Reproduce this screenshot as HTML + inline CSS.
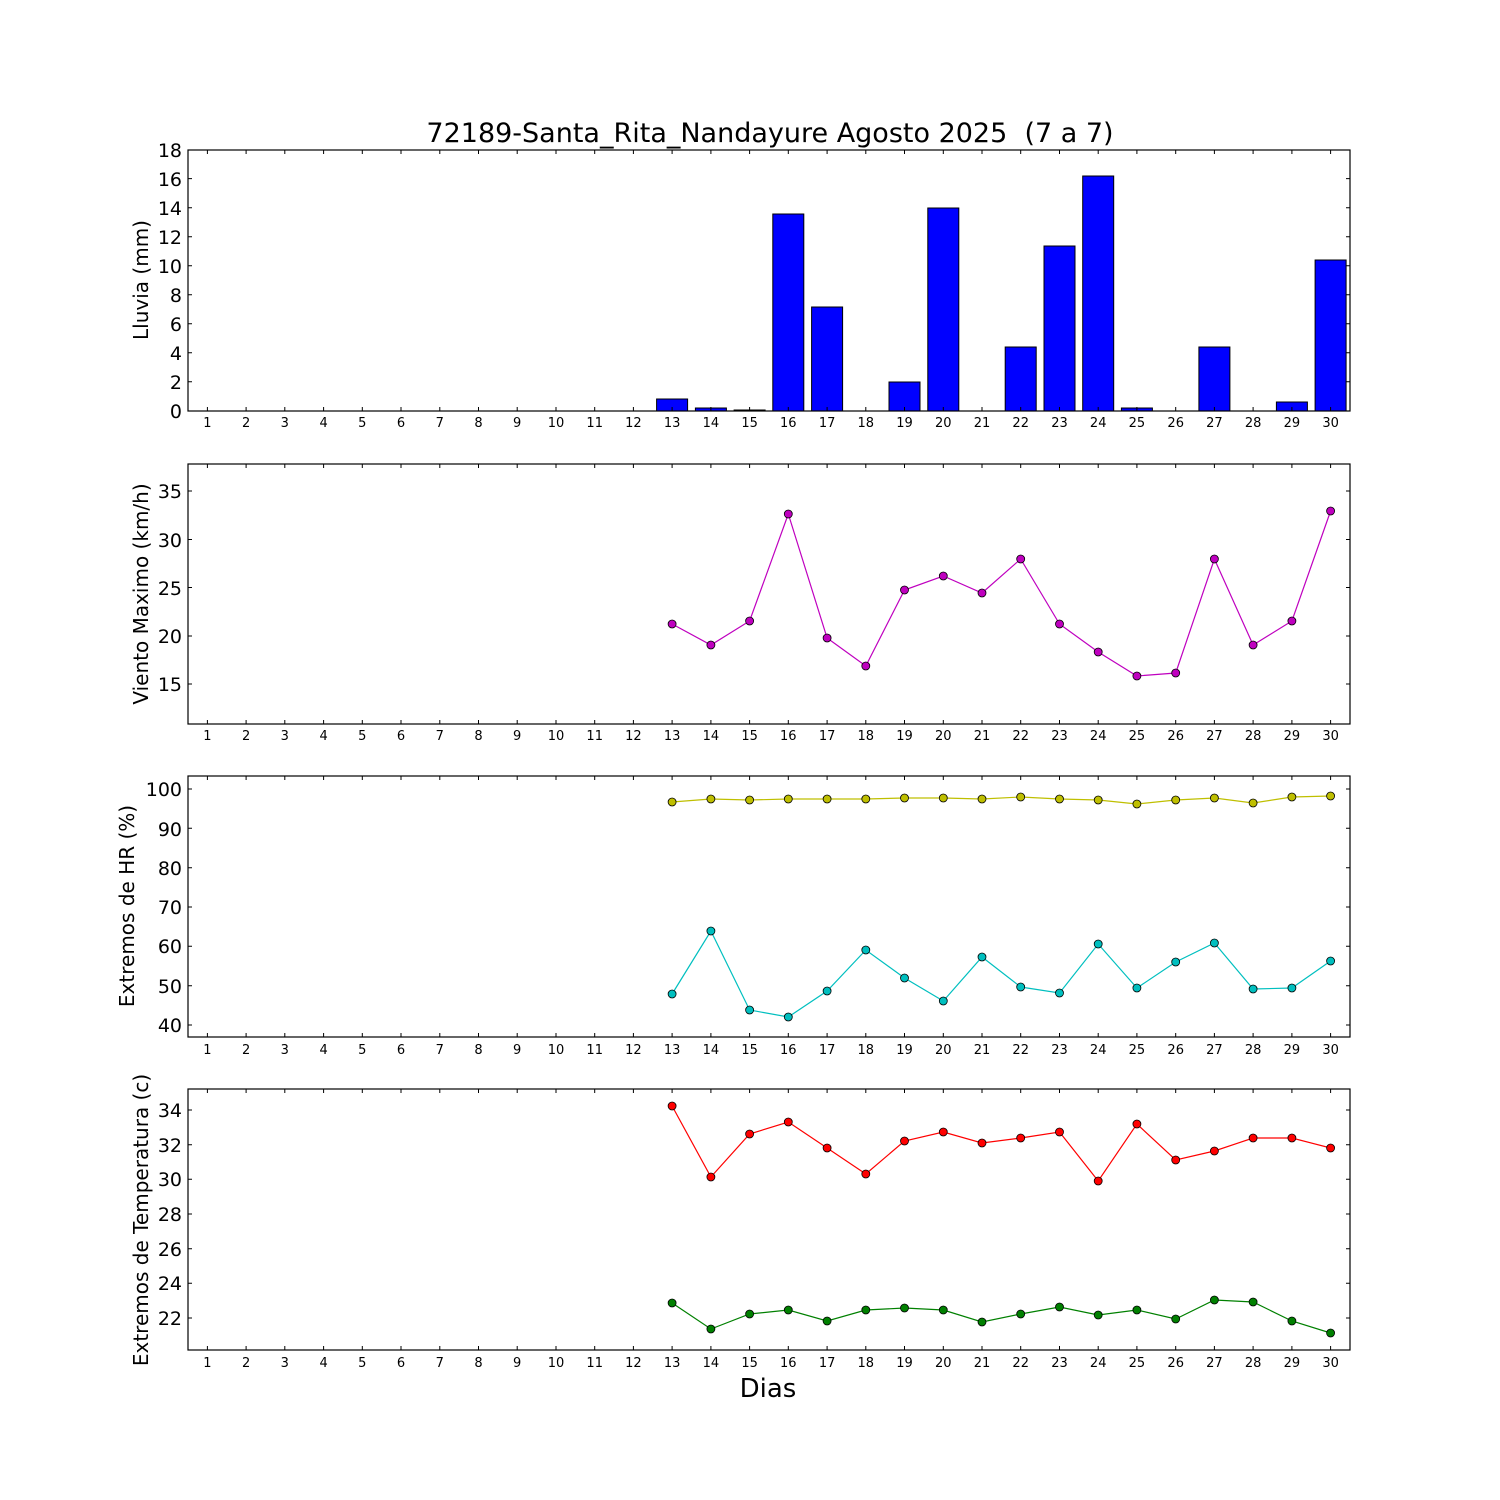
<!DOCTYPE html><html><head><style>body{margin:0;background:#fff}svg{display:block}text{font-family:"DejaVu Sans","Liberation Sans",sans-serif}</style></head><body>
<svg width="1500" height="1500" xmlns="http://www.w3.org/2000/svg">
<rect width="1500" height="1500" fill="#fff"/>
<text x="770" y="142" font-size="27" text-anchor="middle">72189-Santa_Rita_Nandayure Agosto 2025&#160; (7 a 7)</text>
<text x="768" y="1397" font-size="26" text-anchor="middle">Dias</text>
<g font-size="20" text-anchor="middle">
<text transform="translate(148,280) rotate(-90)">Lluvia (mm)</text>
<text transform="translate(148,594) rotate(-90)">Viento Maximo (km/h)</text>
<text transform="translate(134,906) rotate(-90)">Extremos de HR (%)</text>
<text transform="translate(148,1220) rotate(-90)">Extremos de Temperatura (c)</text>
</g>
<g fill="#0000ff" stroke="#000" stroke-width="1">
<rect x="656.6" y="399" width="31" height="12"/>
<rect x="695.4" y="408" width="31" height="3"/>
<rect x="734.1" y="410" width="31" height="1"/>
<rect x="772.8" y="214" width="31" height="197"/>
<rect x="811.6" y="307" width="31" height="104"/>
<rect x="889" y="382" width="31" height="29"/>
<rect x="927.8" y="208" width="31" height="203"/>
<rect x="1005.2" y="347" width="31" height="64"/>
<rect x="1044" y="246" width="31" height="165"/>
<rect x="1082.7" y="176" width="31" height="235"/>
<rect x="1121.4" y="408" width="31" height="3"/>
<rect x="1198.9" y="347" width="31" height="64"/>
<rect x="1276.4" y="402" width="31" height="9"/>
<rect x="1315.1" y="260" width="31" height="151"/>
</g>
<g fill="none" stroke="#000" stroke-width="1.2">
<rect x="188" y="150" width="1162" height="261"/>
<rect x="188" y="464" width="1162" height="260"/>
<rect x="188" y="776" width="1162" height="261"/>
<rect x="188" y="1089" width="1162" height="261"/>
</g>
<g stroke="#000" stroke-width="1">
<path d="M207.4 0v4M246.1 0v4M284.8 0v4M323.6 0v4M362.3 0v4M401 0v4M439.8 0v4M478.5 0v4M517.2 0v4M556 0v4M594.7 0v4M633.4 0v4M672.1 0v4M710.9 0v4M749.6 0v4M788.3 0v4M827.1 0v4M865.8 0v4M904.5 0v4M943.3 0v4M982 0v4M1020.7 0v4M1059.5 0v4M1098.2 0v4M1136.9 0v4M1175.7 0v4M1214.4 0v4M1253.1 0v4M1291.9 0v4M1330.6 0v4" transform="translate(0,150)"/>
<path d="M207.4 0v4M246.1 0v4M284.8 0v4M323.6 0v4M362.3 0v4M401 0v4M439.8 0v4M478.5 0v4M517.2 0v4M556 0v4M594.7 0v4M633.4 0v4M672.1 0v4M710.9 0v4M749.6 0v4M788.3 0v4M827.1 0v4M865.8 0v4M904.5 0v4M943.3 0v4M982 0v4M1020.7 0v4M1059.5 0v4M1098.2 0v4M1136.9 0v4M1175.7 0v4M1214.4 0v4M1253.1 0v4M1291.9 0v4M1330.6 0v4" transform="translate(0,407)"/>
<path d="M207.4 0v4M246.1 0v4M284.8 0v4M323.6 0v4M362.3 0v4M401 0v4M439.8 0v4M478.5 0v4M517.2 0v4M556 0v4M594.7 0v4M633.4 0v4M672.1 0v4M710.9 0v4M749.6 0v4M788.3 0v4M827.1 0v4M865.8 0v4M904.5 0v4M943.3 0v4M982 0v4M1020.7 0v4M1059.5 0v4M1098.2 0v4M1136.9 0v4M1175.7 0v4M1214.4 0v4M1253.1 0v4M1291.9 0v4M1330.6 0v4" transform="translate(0,464)"/>
<path d="M207.4 0v4M246.1 0v4M284.8 0v4M323.6 0v4M362.3 0v4M401 0v4M439.8 0v4M478.5 0v4M517.2 0v4M556 0v4M594.7 0v4M633.4 0v4M672.1 0v4M710.9 0v4M749.6 0v4M788.3 0v4M827.1 0v4M865.8 0v4M904.5 0v4M943.3 0v4M982 0v4M1020.7 0v4M1059.5 0v4M1098.2 0v4M1136.9 0v4M1175.7 0v4M1214.4 0v4M1253.1 0v4M1291.9 0v4M1330.6 0v4" transform="translate(0,720)"/>
<path d="M207.4 0v4M246.1 0v4M284.8 0v4M323.6 0v4M362.3 0v4M401 0v4M439.8 0v4M478.5 0v4M517.2 0v4M556 0v4M594.7 0v4M633.4 0v4M672.1 0v4M710.9 0v4M749.6 0v4M788.3 0v4M827.1 0v4M865.8 0v4M904.5 0v4M943.3 0v4M982 0v4M1020.7 0v4M1059.5 0v4M1098.2 0v4M1136.9 0v4M1175.7 0v4M1214.4 0v4M1253.1 0v4M1291.9 0v4M1330.6 0v4" transform="translate(0,776)"/>
<path d="M207.4 0v4M246.1 0v4M284.8 0v4M323.6 0v4M362.3 0v4M401 0v4M439.8 0v4M478.5 0v4M517.2 0v4M556 0v4M594.7 0v4M633.4 0v4M672.1 0v4M710.9 0v4M749.6 0v4M788.3 0v4M827.1 0v4M865.8 0v4M904.5 0v4M943.3 0v4M982 0v4M1020.7 0v4M1059.5 0v4M1098.2 0v4M1136.9 0v4M1175.7 0v4M1214.4 0v4M1253.1 0v4M1291.9 0v4M1330.6 0v4" transform="translate(0,1033)"/>
<path d="M207.4 0v4M246.1 0v4M284.8 0v4M323.6 0v4M362.3 0v4M401 0v4M439.8 0v4M478.5 0v4M517.2 0v4M556 0v4M594.7 0v4M633.4 0v4M672.1 0v4M710.9 0v4M749.6 0v4M788.3 0v4M827.1 0v4M865.8 0v4M904.5 0v4M943.3 0v4M982 0v4M1020.7 0v4M1059.5 0v4M1098.2 0v4M1136.9 0v4M1175.7 0v4M1214.4 0v4M1253.1 0v4M1291.9 0v4M1330.6 0v4" transform="translate(0,1089)"/>
<path d="M207.4 0v4M246.1 0v4M284.8 0v4M323.6 0v4M362.3 0v4M401 0v4M439.8 0v4M478.5 0v4M517.2 0v4M556 0v4M594.7 0v4M633.4 0v4M672.1 0v4M710.9 0v4M749.6 0v4M788.3 0v4M827.1 0v4M865.8 0v4M904.5 0v4M943.3 0v4M982 0v4M1020.7 0v4M1059.5 0v4M1098.2 0v4M1136.9 0v4M1175.7 0v4M1214.4 0v4M1253.1 0v4M1291.9 0v4M1330.6 0v4" transform="translate(0,1346)"/>
<path d="M188 411h4M188 381.8h4M188 352.8h4M188 323.8h4M188 294.7h4M188 265.7h4M188 236.7h4M188 207.7h4M188 178.6h4M188 150h4 M1350 411h-4M1350 381.8h-4M1350 352.8h-4M1350 323.8h-4M1350 294.7h-4M1350 265.7h-4M1350 236.7h-4M1350 207.7h-4M1350 178.6h-4M1350 150h-4"/>
<path d="M188 684h4M188 636h4M188 587.5h4M188 539.5h4M188 491h4 M1350 684h-4M1350 636h-4M1350 587.5h-4M1350 539.5h-4M1350 491h-4"/>
<path d="M188 1025h4M188 985.7h4M188 946.3h4M188 907h4M188 867.7h4M188 828.3h4M188 789h4 M1350 1025h-4M1350 985.7h-4M1350 946.3h-4M1350 907h-4M1350 867.7h-4M1350 828.3h-4M1350 789h-4"/>
<path d="M188 1318h4M188 1283.3h4M188 1248.7h4M188 1214h4M188 1179.3h4M188 1144.7h4M188 1110h4 M1350 1318h-4M1350 1283.3h-4M1350 1248.7h-4M1350 1214h-4M1350 1179.3h-4M1350 1144.7h-4M1350 1110h-4"/>
</g>
<g font-size="19" text-anchor="end">
<text x="182" y="418">0</text><text x="182" y="389">2</text><text x="182" y="360">4</text><text x="182" y="331">6</text><text x="182" y="302">8</text><text x="182" y="273">10</text><text x="182" y="244">12</text><text x="182" y="215">14</text><text x="182" y="186">16</text><text x="182" y="157">18</text>
<text x="182" y="691">15</text><text x="182" y="643">20</text><text x="182" y="595">25</text><text x="182" y="547">30</text><text x="182" y="498">35</text>
<text x="182" y="1032">40</text><text x="182" y="993">50</text><text x="182" y="953">60</text><text x="182" y="914">70</text><text x="182" y="875">80</text><text x="182" y="836">90</text><text x="182" y="796">100</text>
<text x="182" y="1325">22</text><text x="182" y="1290">24</text><text x="182" y="1256">26</text><text x="182" y="1221">28</text><text x="182" y="1186">30</text><text x="182" y="1152">32</text><text x="182" y="1117">34</text>
</g>
<g font-size="13" text-anchor="middle">
<text y="427"><tspan x="207.4">1</tspan><tspan x="246.1">2</tspan><tspan x="284.8">3</tspan><tspan x="323.6">4</tspan><tspan x="362.3">5</tspan><tspan x="401">6</tspan><tspan x="439.8">7</tspan><tspan x="478.5">8</tspan><tspan x="517.2">9</tspan><tspan x="556">10</tspan><tspan x="594.7">11</tspan><tspan x="633.4">12</tspan><tspan x="672.1">13</tspan><tspan x="710.9">14</tspan><tspan x="749.6">15</tspan><tspan x="788.3">16</tspan><tspan x="827.1">17</tspan><tspan x="865.8">18</tspan><tspan x="904.5">19</tspan><tspan x="943.3">20</tspan><tspan x="982">21</tspan><tspan x="1020.7">22</tspan><tspan x="1059.5">23</tspan><tspan x="1098.2">24</tspan><tspan x="1136.9">25</tspan><tspan x="1175.7">26</tspan><tspan x="1214.4">27</tspan><tspan x="1253.1">28</tspan><tspan x="1291.9">29</tspan><tspan x="1330.6">30</tspan></text>
<text y="740"><tspan x="207.4">1</tspan><tspan x="246.1">2</tspan><tspan x="284.8">3</tspan><tspan x="323.6">4</tspan><tspan x="362.3">5</tspan><tspan x="401">6</tspan><tspan x="439.8">7</tspan><tspan x="478.5">8</tspan><tspan x="517.2">9</tspan><tspan x="556">10</tspan><tspan x="594.7">11</tspan><tspan x="633.4">12</tspan><tspan x="672.1">13</tspan><tspan x="710.9">14</tspan><tspan x="749.6">15</tspan><tspan x="788.3">16</tspan><tspan x="827.1">17</tspan><tspan x="865.8">18</tspan><tspan x="904.5">19</tspan><tspan x="943.3">20</tspan><tspan x="982">21</tspan><tspan x="1020.7">22</tspan><tspan x="1059.5">23</tspan><tspan x="1098.2">24</tspan><tspan x="1136.9">25</tspan><tspan x="1175.7">26</tspan><tspan x="1214.4">27</tspan><tspan x="1253.1">28</tspan><tspan x="1291.9">29</tspan><tspan x="1330.6">30</tspan></text>
<text y="1054"><tspan x="207.4">1</tspan><tspan x="246.1">2</tspan><tspan x="284.8">3</tspan><tspan x="323.6">4</tspan><tspan x="362.3">5</tspan><tspan x="401">6</tspan><tspan x="439.8">7</tspan><tspan x="478.5">8</tspan><tspan x="517.2">9</tspan><tspan x="556">10</tspan><tspan x="594.7">11</tspan><tspan x="633.4">12</tspan><tspan x="672.1">13</tspan><tspan x="710.9">14</tspan><tspan x="749.6">15</tspan><tspan x="788.3">16</tspan><tspan x="827.1">17</tspan><tspan x="865.8">18</tspan><tspan x="904.5">19</tspan><tspan x="943.3">20</tspan><tspan x="982">21</tspan><tspan x="1020.7">22</tspan><tspan x="1059.5">23</tspan><tspan x="1098.2">24</tspan><tspan x="1136.9">25</tspan><tspan x="1175.7">26</tspan><tspan x="1214.4">27</tspan><tspan x="1253.1">28</tspan><tspan x="1291.9">29</tspan><tspan x="1330.6">30</tspan></text>
<text y="1367"><tspan x="207.4">1</tspan><tspan x="246.1">2</tspan><tspan x="284.8">3</tspan><tspan x="323.6">4</tspan><tspan x="362.3">5</tspan><tspan x="401">6</tspan><tspan x="439.8">7</tspan><tspan x="478.5">8</tspan><tspan x="517.2">9</tspan><tspan x="556">10</tspan><tspan x="594.7">11</tspan><tspan x="633.4">12</tspan><tspan x="672.1">13</tspan><tspan x="710.9">14</tspan><tspan x="749.6">15</tspan><tspan x="788.3">16</tspan><tspan x="827.1">17</tspan><tspan x="865.8">18</tspan><tspan x="904.5">19</tspan><tspan x="943.3">20</tspan><tspan x="982">21</tspan><tspan x="1020.7">22</tspan><tspan x="1059.5">23</tspan><tspan x="1098.2">24</tspan><tspan x="1136.9">25</tspan><tspan x="1175.7">26</tspan><tspan x="1214.4">27</tspan><tspan x="1253.1">28</tspan><tspan x="1291.9">29</tspan><tspan x="1330.6">30</tspan></text>
</g>
<g fill="none" stroke-width="1.2">
<polyline stroke="#bf00bf" points="672.1,624 710.9,645 749.6,621 788.3,514 827.1,638 865.8,666 904.5,590 943.3,576 982,593 1020.7,559 1059.5,624 1098.2,652 1136.9,676 1175.7,673 1214.4,559 1253.1,645 1291.9,621 1330.6,511"/>
<polyline stroke="#bfbf00" points="672.1,802 710.9,799 749.6,800 788.3,799 827.1,799 865.8,799 904.5,798 943.3,798 982,799 1020.7,797 1059.5,799 1098.2,800 1136.9,804 1175.7,800 1214.4,798 1253.1,803 1291.9,797 1330.6,796"/>
<polyline stroke="#00bfbf" points="672.1,994 710.9,931 749.6,1010 788.3,1017 827.1,991 865.8,950 904.5,978 943.3,1001 982,957 1020.7,987 1059.5,993 1098.2,944 1136.9,988 1175.7,962 1214.4,943 1253.1,989 1291.9,988 1330.6,961"/>
<polyline stroke="#ff0000" points="672.1,1106 710.9,1177 749.6,1134 788.3,1122 827.1,1148 865.8,1174 904.5,1141 943.3,1132 982,1143 1020.7,1138 1059.5,1132 1098.2,1181 1136.9,1124 1175.7,1160 1214.4,1151 1253.1,1138 1291.9,1138 1330.6,1148"/>
<polyline stroke="#008000" points="672.1,1303 710.9,1329 749.6,1314 788.3,1310 827.1,1321 865.8,1310 904.5,1308 943.3,1310 982,1322 1020.7,1314 1059.5,1307 1098.2,1315 1136.9,1310 1175.7,1319 1214.4,1300 1253.1,1302 1291.9,1321 1330.6,1333"/>
</g>
<g stroke="#000" stroke-width="0.8">
<g fill="#bf00bf"><circle cx="672.1" cy="624" r="4"/><circle cx="710.9" cy="645" r="4"/><circle cx="749.6" cy="621" r="4"/><circle cx="788.3" cy="514" r="4"/><circle cx="827.1" cy="638" r="4"/><circle cx="865.8" cy="666" r="4"/><circle cx="904.5" cy="590" r="4"/><circle cx="943.3" cy="576" r="4"/><circle cx="982" cy="593" r="4"/><circle cx="1020.7" cy="559" r="4"/><circle cx="1059.5" cy="624" r="4"/><circle cx="1098.2" cy="652" r="4"/><circle cx="1136.9" cy="676" r="4"/><circle cx="1175.7" cy="673" r="4"/><circle cx="1214.4" cy="559" r="4"/><circle cx="1253.1" cy="645" r="4"/><circle cx="1291.9" cy="621" r="4"/><circle cx="1330.6" cy="511" r="4"/></g>
<g fill="#bfbf00"><circle cx="672.1" cy="802" r="4"/><circle cx="710.9" cy="799" r="4"/><circle cx="749.6" cy="800" r="4"/><circle cx="788.3" cy="799" r="4"/><circle cx="827.1" cy="799" r="4"/><circle cx="865.8" cy="799" r="4"/><circle cx="904.5" cy="798" r="4"/><circle cx="943.3" cy="798" r="4"/><circle cx="982" cy="799" r="4"/><circle cx="1020.7" cy="797" r="4"/><circle cx="1059.5" cy="799" r="4"/><circle cx="1098.2" cy="800" r="4"/><circle cx="1136.9" cy="804" r="4"/><circle cx="1175.7" cy="800" r="4"/><circle cx="1214.4" cy="798" r="4"/><circle cx="1253.1" cy="803" r="4"/><circle cx="1291.9" cy="797" r="4"/><circle cx="1330.6" cy="796" r="4"/></g>
<g fill="#00bfbf"><circle cx="672.1" cy="994" r="4"/><circle cx="710.9" cy="931" r="4"/><circle cx="749.6" cy="1010" r="4"/><circle cx="788.3" cy="1017" r="4"/><circle cx="827.1" cy="991" r="4"/><circle cx="865.8" cy="950" r="4"/><circle cx="904.5" cy="978" r="4"/><circle cx="943.3" cy="1001" r="4"/><circle cx="982" cy="957" r="4"/><circle cx="1020.7" cy="987" r="4"/><circle cx="1059.5" cy="993" r="4"/><circle cx="1098.2" cy="944" r="4"/><circle cx="1136.9" cy="988" r="4"/><circle cx="1175.7" cy="962" r="4"/><circle cx="1214.4" cy="943" r="4"/><circle cx="1253.1" cy="989" r="4"/><circle cx="1291.9" cy="988" r="4"/><circle cx="1330.6" cy="961" r="4"/></g>
<g fill="#ff0000"><circle cx="672.1" cy="1106" r="4"/><circle cx="710.9" cy="1177" r="4"/><circle cx="749.6" cy="1134" r="4"/><circle cx="788.3" cy="1122" r="4"/><circle cx="827.1" cy="1148" r="4"/><circle cx="865.8" cy="1174" r="4"/><circle cx="904.5" cy="1141" r="4"/><circle cx="943.3" cy="1132" r="4"/><circle cx="982" cy="1143" r="4"/><circle cx="1020.7" cy="1138" r="4"/><circle cx="1059.5" cy="1132" r="4"/><circle cx="1098.2" cy="1181" r="4"/><circle cx="1136.9" cy="1124" r="4"/><circle cx="1175.7" cy="1160" r="4"/><circle cx="1214.4" cy="1151" r="4"/><circle cx="1253.1" cy="1138" r="4"/><circle cx="1291.9" cy="1138" r="4"/><circle cx="1330.6" cy="1148" r="4"/></g>
<g fill="#008000"><circle cx="672.1" cy="1303" r="4"/><circle cx="710.9" cy="1329" r="4"/><circle cx="749.6" cy="1314" r="4"/><circle cx="788.3" cy="1310" r="4"/><circle cx="827.1" cy="1321" r="4"/><circle cx="865.8" cy="1310" r="4"/><circle cx="904.5" cy="1308" r="4"/><circle cx="943.3" cy="1310" r="4"/><circle cx="982" cy="1322" r="4"/><circle cx="1020.7" cy="1314" r="4"/><circle cx="1059.5" cy="1307" r="4"/><circle cx="1098.2" cy="1315" r="4"/><circle cx="1136.9" cy="1310" r="4"/><circle cx="1175.7" cy="1319" r="4"/><circle cx="1214.4" cy="1300" r="4"/><circle cx="1253.1" cy="1302" r="4"/><circle cx="1291.9" cy="1321" r="4"/><circle cx="1330.6" cy="1333" r="4"/></g>
</g>
</svg>
</body></html>
